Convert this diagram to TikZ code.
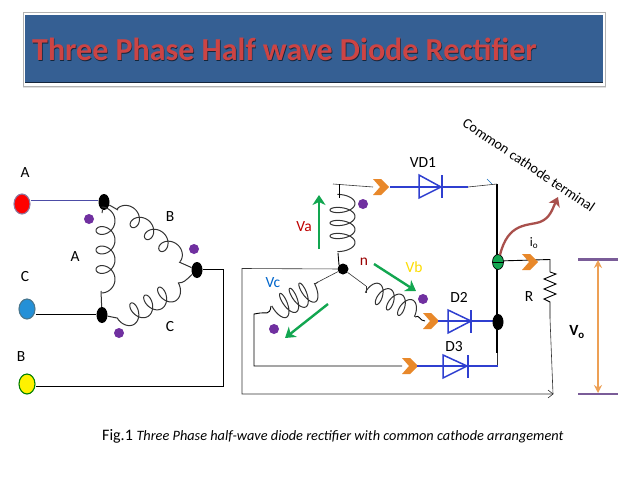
\documentclass[tikz,border=0pt]{standalone}
\usepackage{fontspec}
\setmainfont{Carlito}
\usetikzlibrary{shapes.geometric,arrows.meta,calc}
\definecolor{titleblue}{HTML}{355F93}
\definecolor{titlered}{HTML}{CC4444}
\definecolor{chevorange}{HTML}{E8882A}
\definecolor{dotpurple}{HTML}{7030A0}
\definecolor{wireblue}{HTML}{2F3FD0}
\definecolor{arrowgreen}{HTML}{12A650}
\definecolor{vored}{HTML}{A9504C}
\definecolor{volila}{HTML}{7A5C98}
\tikzset{
  x=1pt,y=-1pt,
  wire/.style={draw=black,line width=0.9pt},
  thinwire/.style={draw=black!80,line width=0.6pt},
  bluewire/.style={draw=wireblue,line width=1.2pt},
  coilline/.style={draw=black!80,line width=1pt,line join=round},
  blacknode/.style={ellipse,fill=black,inner sep=0pt,minimum width=11pt,minimum height=16pt},
  termnode/.style={ellipse,draw=#1,line width=1.1pt,inner sep=0pt,minimum width=16pt,minimum height=20pt},
  purpledot/.style={circle,fill=dotpurple,inner sep=0pt,minimum size=10pt},
  lbl/.style={font=\fontsize{15.5}{17}\selectfont,inner sep=0pt},
  greenarrow/.style={draw=arrowgreen,line width=2.4pt,-{Stealth[length=10pt,width=13pt,inset=3pt]}},
  diodetri/.style={draw=wireblue,line width=1.5pt,fill=none,line join=miter},
  chev/.pic={\fill[chevorange] (-8,-8) -- (0,-8) -- (8,0) -- (0,8) -- (-8,8) -- (-1,0) -- cycle;},
}
% winding: baseline from (#1,#2) to (#3,#4), #5 turns, lateral height #6 (signed side)
\newcommand{\winding}[6]{%
  \pgfmathsetmacro{\wL}{veclen(#3-#1,#4-#2)}%
  \pgfmathsetmacro{\wA}{atan2(-(#4-#2),#3-#1)}%
  \pgfmathsetmacro{\wP}{(\wL-5)/#5}%
  \pgfmathsetmacro{\wB}{0.42*\wP}%
  \pgfmathsetmacro{\wE}{2*pi*#5-1.15}%
  \draw[coilline,shift={(#1,#2)},rotate=\wA] plot[domain=1.15:\wE,samples=200,variable=\t]
    ({\wP*\t/(2*pi)-\wB*sin(deg(\t))},{(#6)*(1-cos(deg(\t)))/2});%
}
\begin{document}
\begin{tikzpicture}
\useasboundingbox (0,0) rectangle (638,479);
\fill[white] (0,0) rectangle (638,479);
% title banner
\fill[black!12] (22.5,13) rectangle (606,87.5);
\filldraw[draw=black!30,line width=0.6pt,fill=white] (23,12.7) rectangle (605,86);
\node[fill=titleblue,minimum width=578pt,minimum height=68.5pt,inner sep=0pt] (banner) at (314,48.75) {};
\draw[black!60!titleblue,line width=1pt] (25,82.6) -- (603,82.6);
\node[font=\fontsize{32}{34}\selectfont\bfseries,text=black!60!titleblue,inner sep=0pt,anchor=base west] (titleshadow) at (32.6,61) {Three Phase Half wave Diode Rectifier};
\node[font=\fontsize{32}{34}\selectfont\bfseries,text=titlered,inner sep=0pt,anchor=base west] (title) at (32,60) {Three Phase Half wave Diode Rectifier};
% delta side nodes
\node[termnode=black!40!dotpurple!60,fill=red] (tA) at (22,204) {};
\node[termnode=black!50!cyan,fill=cyan!70!blue!90] (tC) at (27,309) {};
\node[termnode=black!50!green,fill=yellow] (tB) at (27,384) {};
\node[blacknode] (d1) at (104,202) {};
\node[blacknode] (d2) at (102,315) {};
\node[blacknode] (d3) at (197,270) {};
\draw[draw=black!50!blue!70!white,line width=0.7pt] (tA.east |- 0,200) -- (d1.west |- 0,200);
\draw[wire] (tC.east |- 0,314) -- (d2.west |- 0,314);
\coordinate (bcorner1) at (223,386.5);
\coordinate (bcorner2) at (223,269);
\draw[wire] (tB.east |- 0,386.5) -- (bcorner1) -- (bcorner2) -- (d3.east |- 0,269);
\winding{96}{211}{96}{294}{4}{-19}
\draw[coilline] (d1) -- (102,213);
\draw[coilline] (101,291) -- (d2);
\winding{117}{215}{178}{266}{4}{-16}
\draw[coilline] (d1) -- (118,210);
\draw[coilline] (179,262) -- (d3);
\winding{117}{311}{177}{277}{4}{20}
\draw[coilline] (d2) -- (117,318);
\draw[coilline] (178,283) .. controls (184,283) and (186,280) .. (d3);
% delta dots + labels
\node[purpledot] (p1) at (89,219) {};
\node[purpledot] (p2) at (194,249) {};
\node[purpledot] (p3) at (119,333) {};
\node[lbl] (la1) at (25,173) {A};
\node[lbl] (lb1) at (170,217) {B};
\node[lbl] (la2) at (75,257) {A};
\node[lbl] (lc1) at (25,277) {C};
\node[lbl] (lc2) at (170,327) {C};
\node[lbl] (lb2) at (21,357) {B};
% star
\node[blacknode,minimum width=11pt,minimum height=11pt] (n) at (343,269) {};
\coordinate (vaStart) at (333,184);
\pic at (381,187) {chev};
\draw[thinwire] (vaStart) -- (373,187);
\winding{330}{197}{330}{254}{4}{-25}
\draw[wire] (339,184) -- (339,198);
\draw[wire] (338,253) -- (339,265);
\draw[thinwire] (n) -- (242,268.5) -- (242,394) -- (553,394);
\draw[thinwire] (548,390) -- (553,394) -- (548,398);
% Vb
\coordinate (vbS) at (366,286);
\draw[thinwire] (n) -- (vbS);
\winding{365}{299}{414}{323}{4}{-20}
\draw[coilline] (vbS) -- (366,293);
\draw[wire] (415,317) .. controls (420,314) and (419,321) .. (425,321);
% Vc
\coordinate (vcS) at (318,282);
\draw[thinwire] (n) -- (vcS);
\winding{309}{278}{266}{301}{4}{-24}
\draw[coilline] (vcS) -- (315,284);
\draw[wire] (271,306) .. controls (270,316) and (265,312) .. (260,313) -- (254,314) -- (254,366) -- (402,366);
% right rail
\draw[wire,line width=1.4pt] (497,184) -- (497,353);
\draw[thinwire] (497,353) -- (497,366);
% diodes
\draw[bluewire] (390,187) -- (468,187);
\draw[thinwire] (468,187) -- (497,184);
\draw[draw=cyan!50!blue,line width=0.6pt] (487,179) -- (492,184);
\draw[diodetri] (419,175) -- (419,198) -- (441,187) -- cycle;
\draw[diodetri] (442,175) -- (442,198);
\pic at (431,321) {chev};
\draw[bluewire] (438,321) -- (498,321);
\draw[diodetri] (448,310) -- (448,333) -- (471,321) -- cycle;
\draw[diodetri] (471,310) -- (471,333);
\pic at (410,366) {chev};
\draw[bluewire] (417,366) -- (498,366);
\draw[diodetri] (443,355) -- (443,378) -- (467,366) -- cycle;
\draw[diodetri] (468,355) -- (468,378);
\node[blacknode] (j1) at (498,322) {};
% load
\coordinate (rTop) at (550,259.5);
\draw[wire] (498,261) -- (rTop) -- (550,272);
\node[ellipse,draw=black,fill=arrowgreen,line width=0.7pt,inner sep=0pt,minimum width=11pt,minimum height=15pt] (j2) at (498,262) {};
\draw[wire,line width=0.6pt] (j2.west) -- (j2.east);
\pic at (530,262) {chev};
\draw[wire] (550,272) -- (556,274) -- (544,279) -- (556,284) -- (544,289) -- (556,294) -- (544,299) -- (550,302) -- (550,318);
\draw[thinwire] (550,318) -- (553,394);
% arrow to label
\draw[draw=vored,line width=2.3pt,-{Stealth[length=9pt,width=12pt,inset=2.5pt]}] (500,255) .. controls (508,222) and (528,226) .. (540,222) .. controls (550,218) and (552,210) .. (558,197);
% Vo
\draw[volila,line width=2.6pt] (578,259.5) -- (618,259.5);
\draw[volila,line width=2.6pt] (578,394) -- (618,394);
\draw[draw=chevorange!80!white,line width=1.4pt,{Stealth[length=8pt,width=8pt]}-{Stealth[length=8pt,width=8pt]}] (598,260) -- (598,393);
% green arrows
\draw[greenarrow] (319,249) -- (319,195);
\draw[greenarrow] (374,264) -- (416,291);
\draw[greenarrow] (328,304) -- (285,338);
% star dots
\node[purpledot] (p4) at (363,204) {};
\node[purpledot] (p5) at (423,299) {};
\node[purpledot] (p6) at (274,329) {};
% labels
\node[lbl,text=red!75!black] (va) at (304,227) {Va};
\node[lbl,text=red!60!black] (ln) at (364,262) {n};
\node[lbl,text=yellow!80!orange] (vb) at (414,267) {Vb};
\node[lbl,text=blue!50!cyan!80!black] (vc) at (273,283) {Vc};
\node[lbl] (vd1) at (423,163) {VD1};
\node[lbl] (d2l) at (459,297) {D2};
\node[lbl] (d3l) at (454,347) {D3};
\node[lbl] (rl) at (529,297) {R};
\node[lbl,font=\fontsize{13}{15}\selectfont] (io) at (534,243) {i\textsubscript{o}};
\node[lbl,font=\fontsize{15.5}{17}\selectfont\bfseries] (vo) at (577,332) {V\textsubscript{o}};
\node[lbl,rotate=-34,font=\fontsize{14.3}{16}\selectfont] (cc) at (529,165) {Common cathode terminal};
\node[inner sep=0pt,anchor=west,font=\fontsize{16}{18}\selectfont] (cap) at (102,436) {Fig.1 \textit{\fontsize{14.3}{17}\selectfont Three Phase half-wave diode rectifier with common cathode arrangement}};
\end{tikzpicture}
\end{document}
